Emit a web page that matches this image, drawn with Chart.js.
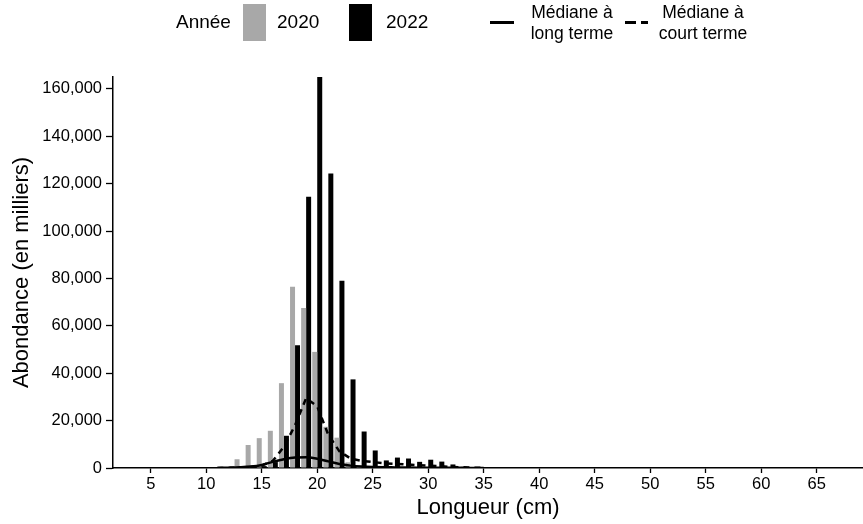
<!DOCTYPE html>
<html>
<head>
<meta charset="utf-8">
<script src="https://cdn.jsdelivr.net/npm/chart.js@4/dist/chart.umd.min.js"></script>
<style>
  body { margin: 0; background: #fff; }
  #wrap { position: relative; width: 863px; height: 524px; font-family: "Liberation Sans", Arial, sans-serif; }
  #chart { position: absolute; left: 0; top: 0; }
  .lg { position: absolute; font-size: 19px; color: #000; }
  .two { text-align: center; line-height: 21px; font-size: 17.5px; }
</style>
</head>
<body>
<div id="wrap">
  <canvas id="chart" width="863" height="524"></canvas>
  <!-- legend -->
  <div class="lg" style="left:176px; top:11px;">Année</div>
  <div class="lg" style="left:243px; top:4px; width:23px; height:37px; background:#a8a8a8;"></div>
  <div class="lg" style="left:277px; top:11px;">2020</div>
  <div class="lg" style="left:349px; top:4px; width:23px; height:37px; background:#000;"></div>
  <div class="lg" style="left:386px; top:11px;">2022</div>
  <div class="lg" style="left:490px; top:21px; width:24px; height:3px; background:#000;"></div>
  <div class="lg two" style="left:526px; top:2px; width:92px;">Médiane à<br>long terme</div>
  <div class="lg" style="left:625px; top:21px; width:11px; height:3px; background:#000;"></div>
  <div class="lg" style="left:641px; top:21px; width:7px; height:3px; background:#000;"></div>
  <div class="lg two" style="left:655px; top:2px; width:96px;">Médiane à<br>court terme</div>
</div>
<script>
// longueurs (cm) et abondances (en milliers)
const len2020 = [13, 14, 15, 16, 17, 18, 19, 20, 21, 22, 23, 24, 25];
const abund2020 = [3700, 9700, 12600, 15700, 35800, 76500, 67500, 49000, 17400, 12800, 2400, 900, 400];

const len2022 = [14, 15, 16, 17, 18, 19, 20, 21, 22, 23, 24, 25, 26, 27, 28, 29, 30, 31, 32, 33, 34, 35];
const abund2022 = [300, 800, 2500, 13600, 51800, 114500, 165000, 124300, 79000, 37400, 15400, 7400,
  3200, 4400, 4000, 2600, 3500, 2700, 1500, 500, 300, 200];

const lenMed = [11, 12, 13, 14, 15, 16, 17, 18, 19, 20, 21, 22, 23, 24, 25, 26, 27, 28, 29, 30, 31, 32, 33, 34, 35];
const medLong = [50, 150, 300, 600, 1300, 2600, 3700, 4400, 4500, 3900, 2800, 1700, 1000, 600, 400,
  300, 250, 200, 150, 120, 100, 80, 60, 40, 20];
const medShort = [0, 0, 100, 400, 1000, 3000, 9000, 18000, 29500, 26000, 14000, 7000, 4000, 3000, 2500,
  2000, 1800, 1500, 1200, 1000, 800, 500, 300, 150, 50];

const yTicks = [0, 20000, 40000, 60000, 80000, 100000, 120000, 140000, 160000];
const xTicks = [5, 10, 15, 20, 25, 30, 35, 40, 45, 50, 55, 60, 65];

const pts = (xs, ys) => xs.map((x, i) => ({ x: x, y: ys[i] }));
const font = "'Liberation Sans', Arial, sans-serif";

new Chart(document.getElementById("chart").getContext("2d"), {
  type: "bar",
  data: {
    datasets: [
      {
        type: "line",
        label: "Médiane à long terme",
        data: pts(lenMed, medLong),
        borderColor: "#000",
        borderWidth: 2.5,
        pointRadius: 0,
        cubicInterpolationMode: "monotone",
        order: 0,
      },
      {
        type: "line",
        label: "Médiane à court terme",
        data: pts(lenMed, medShort),
        borderColor: "#000",
        borderWidth: 2.5,
        borderDash: [6, 5],
        pointRadius: 0,
        order: 0,
      },
      {
        label: "2020",
        data: pts(len2020, abund2020),
        backgroundColor: "#a8a8a8",
        categoryPercentage: 0.9,
        barPercentage: 1,
        order: 2,
      },
      {
        label: "2022",
        data: pts(len2022, abund2022),
        backgroundColor: "#000",
        categoryPercentage: 0.9,
        barPercentage: 1,
        order: 2,
      },
    ],
  },
  options: {
    responsive: false,
    animation: false,
    layout: { padding: { top: 77, right: 0, left: 0, bottom: 0 } },
    plugins: { legend: { display: false }, tooltip: { enabled: false } },
    scales: {
      x: {
        type: "linear",
        offset: false,
        min: 1.6,
        max: 69.17,
        afterFit: (s) => { s.height = 56; },
        afterBuildTicks: (s) => { s.ticks = xTicks.map((v) => ({ value: v })); },
        ticks: { color: "#000", font: { family: font, size: 16.5 }, padding: 2, maxRotation: 0 },
        grid: { offset: false, drawOnChartArea: false, tickLength: 5, color: "#000", tickWidth: 1.3 },
        border: { color: "#000", width: 1.5 },
        title: { display: true, text: "Longueur (cm)", color: "#000", font: { family: font, size: 22 }, padding: { top: 0, bottom: 3 } },
      },
      y: {
        min: 0,
        max: 165000,
        afterFit: (s) => { s.width = 113; },
        afterBuildTicks: (s) => { s.ticks = yTicks.map((v) => ({ value: v })); },
        ticks: {
          color: "#000",
          font: { family: font, size: 16.5 },
          padding: 4,
          callback: (v) => v.toLocaleString("en-US"),
        },
        grid: { drawOnChartArea: false, tickLength: 7, color: "#000", tickWidth: 1.3 },
        border: { color: "#000", width: 1.5 },
        title: { display: true, text: "Abondance (en milliers)", color: "#000", font: { family: font, size: 22 }, padding: { top: 9, bottom: 0 } },
      },
    },
  },
});
</script>
</body>
</html>
